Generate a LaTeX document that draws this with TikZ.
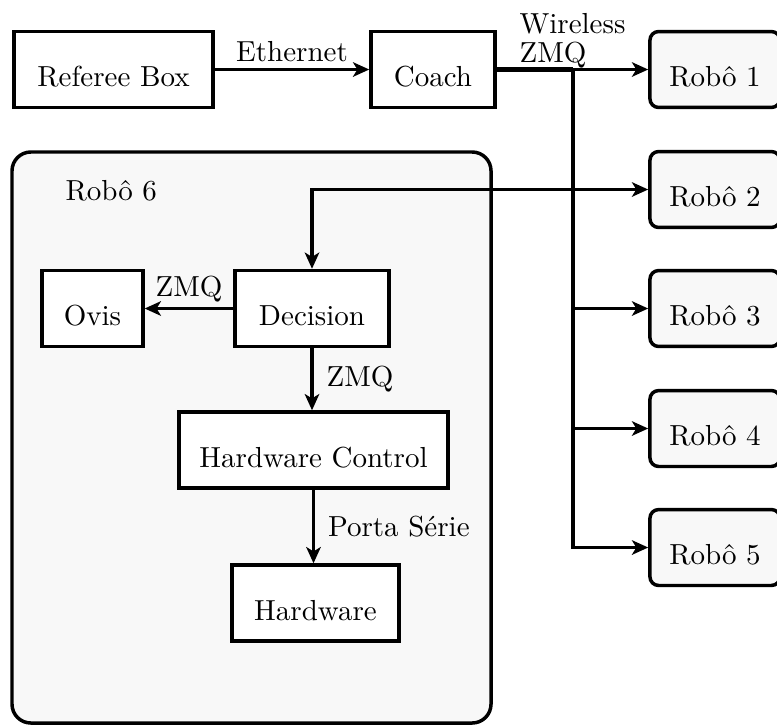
\documentclass[tikz,border=0pt]{standalone}
\usetikzlibrary{arrows.meta}
\definecolor{panel}{RGB}{248,248,248}
\tikzset{
  box/.style={draw, line width=1.2pt, fill=white, inner sep=0pt,
    minimum height=26.2pt, text height=12pt, text depth=0pt},
  robot/.style={box, fill=panel, rounded corners=3pt, minimum width=44.9pt},
  tip/.tip={Stealth[length=5.6pt,width=5pt,inset=1.5pt]},
  link/.style={line width=1.1pt, -tip},
  duplex/.style={line width=1.1pt, tip-tip},
  lbl/.style={inner sep=0pt},
}
\begin{document}
\begin{tikzpicture}[x=0.345pt, y=-0.345pt]
\path[use as bounding box, clip] (0,0) rectangle (777,724);

% robot 6 container
\draw[line width=1.2pt, fill=panel, rounded corners=6.5pt] (12,152) rectangle (491,723);
\node[anchor=base west, lbl] (r6) at (65,200) {Robô 6};

% top row
\node[box, minimum width=68.7pt] (ref) at (113.5,69.5) {Referee Box};
\node[box, minimum width=42.8pt] (coach) at (433,69.5) {Coach};

% team robots
\node[robot] (robo1) at (715,69.5) {Robô 1};
\node[robot] (robo2) at (715,189.5) {Robô 2};
\node[robot] (robo3) at (715,308.5) {Robô 3};
\node[robot] (robo4) at (715,428.5) {Robô 4};
\node[robot] (robo5) at (715,547.5) {Robô 5};

% software inside robot 6
\node[box, minimum width=34.8pt] (ovis) at (92.5,308.5) {Ovis};
\node[box, minimum width=53.1pt] (decision) at (312,308.5) {Decision};
\node[box, minimum width=92.8pt] (hwctrl) at (313.5,450) {Hardware Control};
\node[box, minimum width=57.6pt] (hw) at (315.5,603) {Hardware};

% links
\draw[link] (ref) -- node[above, inner sep=2pt] {Ethernet} (coach);

\coordinate (bus) at (573,69.5);
\draw[line width=1.8pt] (coach.east) -- (bus);
\node[anchor=base west, lbl, align=left, font=\fontsize{10}{10}\selectfont]
  (wl) at (519,62) {Wireless\\ZMQ};
\draw[link] (bus) -- (robo1.west);
\draw[link] (bus) |- (robo3.west);
\draw[link] (bus) |- (robo4.west);
\draw[link] (bus) |- (robo5.west);
\draw[duplex] (decision.north) |- (robo2.west);

\draw[link] (decision.west) -- node[above, inner sep=1.5pt] {ZMQ} (ovis.east);
\draw[link] (decision.south) -- node[right, inner sep=4.5pt] {ZMQ} (decision.south |- hwctrl.north);
\draw[link] (hwctrl.south) -- node[right, inner sep=4.5pt] {Porta Série} (hwctrl.south |- hw.north);
\end{tikzpicture}
\end{document}
